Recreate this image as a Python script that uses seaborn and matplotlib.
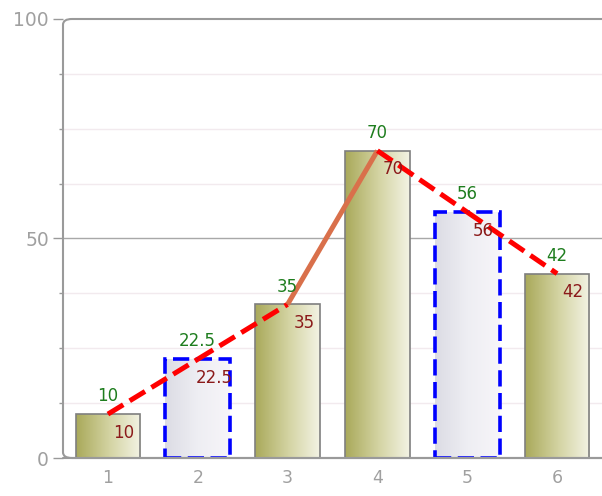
import numpy as np
import pandas as pd
import matplotlib
matplotlib.use("Agg")
import matplotlib.pyplot as plt
import seaborn as sns
from matplotlib.patches import FancyBboxPatch
from matplotlib.colors import LinearSegmentedColormap

# data
categories = ["1", "2", "3", "4", "5", "6"]
values = [10, 22.5, 35, 70, 56, 42]
highlight = [False, True, False, False, True, False]   # dashed blue bars
solid_segment = (2, 3)   # index pair drawn as solid line

sns.set_theme(style="white")
plt.rcParams['font.family'] = ['DejaVu Sans']

fig = plt.figure(figsize=(6.02, 4.96), dpi=100)
ax = fig.add_axes([63 / 602, 38 / 496, (602 - 63) / 602, (458 - 19) / 496])

df = pd.DataFrame({"cat": categories, "val": values})
sns.barplot(data=df, x="cat", y="val", ax=ax, width=0.72, color="#c8c890",
            edgecolor="#7f7f7f", linewidth=1.2, zorder=3)

olive = LinearSegmentedColormap.from_list("olive", ["#a9a95a", "#d2d2a0", "#f3f3e4"])
lav = LinearSegmentedColormap.from_list("lav", ["#dcdce4", "#eeeef3", "#f7f5f9"])
grad = np.linspace(0, 1, 256).reshape(1, -1)

for p, hl in zip(ax.patches, highlight):
    x0, y0 = p.get_x(), p.get_y()
    w, h = p.get_width(), p.get_height()
    im = ax.imshow(grad, extent=[x0, x0 + w, y0, y0 + h], aspect="auto",
                   cmap=lav if hl else olive, zorder=3.5)
    im.set_clip_path(p)
    p.set_facecolor("none")
    p.set_zorder(4)
    if hl:
        p.set_edgecolor("#0000ff")
        p.set_linewidth(2.6)
        p.set_linestyle((0, (4.5, 1.8)))

idx = np.arange(len(values))
vals = np.array(values)
# line segments
for i in range(len(values) - 1):
    seg = pd.DataFrame({"x": idx[i:i + 2], "y": vals[i:i + 2]})
    if (i, i + 1) == solid_segment:
        sns.lineplot(data=seg, x="x", y="y", ax=ax, color="#d9704b",
                     linewidth=3.6, zorder=5, solid_capstyle="butt")
    else:
        sns.lineplot(data=seg, x="x", y="y", ax=ax, color="#ff0000",
                     linewidth=3.6, zorder=5, linestyle=(0, (3.6, 1.5)),
                     dash_capstyle="butt")

for i, v in enumerate(values):
    lab = f"{v:g}"
    ax.text(i, v + 2.0, lab, color="#1e7d1e", ha="center", va="bottom",
            fontsize=12, zorder=6)
    ax.text(i + 0.18, v - 2.2, lab, color="#8b1a1a", ha="center", va="top",
            fontsize=12, zorder=6)

ax.set_xlim(-0.5, 5.5)
ax.set_ylim(0, 100)
ax.set_xlabel("")
ax.set_ylabel("")

# grid
for g in np.arange(12.5, 100, 12.5):
    if g == 50:
        ax.axhline(g, color="#a8a8a8", lw=1, zorder=1)
    else:
        ax.axhline(g, color="#f2eaee", lw=1, zorder=1)

ax.set_yticks([0, 50, 100])
ax.set_yticks(np.arange(0, 100.1, 12.5), minor=True)
ax.set_xticks(idx)
ax.set_xticklabels(categories)
ax.set_xticks(np.arange(-0.5, 5.6, 1), minor=True)
ax.tick_params(axis="x", which="major", length=0, pad=8, labelsize=12.5, labelcolor="#a0a0a0")
ax.tick_params(axis="x", which="minor", length=5, width=1, color="#999999", direction="out")
ax.tick_params(axis="y", which="major", length=7, width=1, color="#999999",
               pad=3, labelsize=13.5, labelcolor="#a0a0a0", left=True)
ax.tick_params(axis="y", which="minor", length=3, width=1, color="#999999", left=True)

for s in ax.spines.values():
    s.set_visible(False)

# rounded frame
frame = FancyBboxPatch((-0.5, 0), 6.4, 100, boxstyle="round,pad=0,rounding_size=0.1",
                       mutation_aspect=13,
                       fill=False, edgecolor="#9a9a9a", lw=1.5, zorder=7,
                       transform=ax.transData, clip_on=False)
ax.add_patch(frame)
ax.axhline(0, color="#9a9a9a", lw=1.5, zorder=7, clip_on=False)

fig.savefig("out.png", dpi=100, facecolor="white")
